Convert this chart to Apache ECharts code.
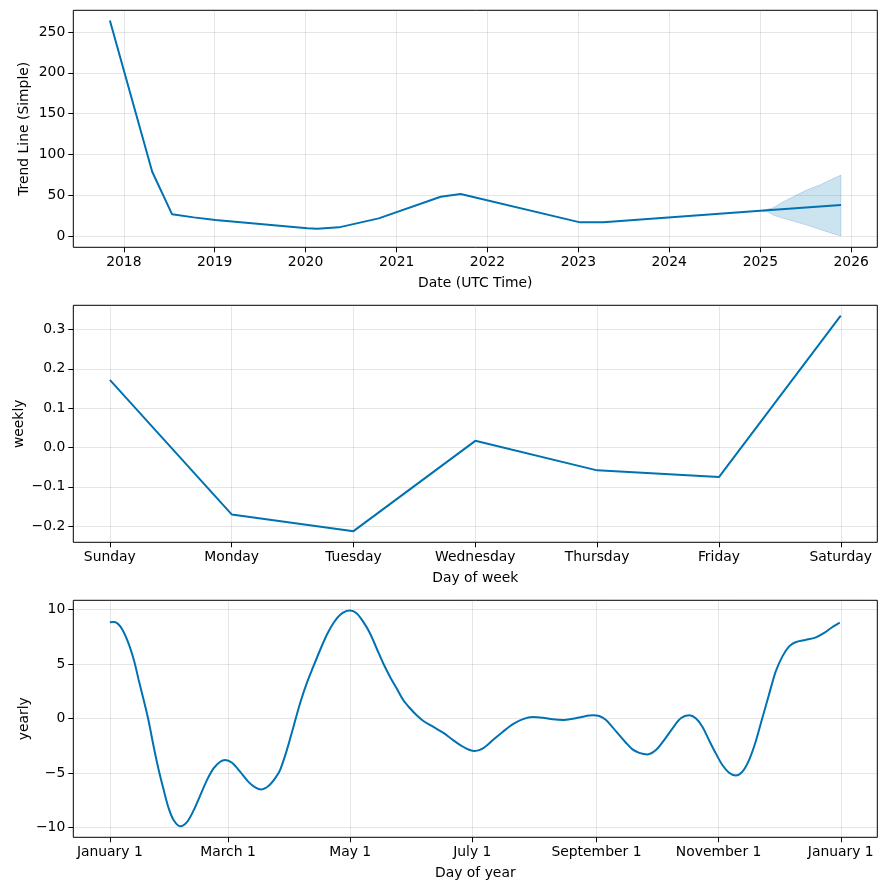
<!DOCTYPE html>
<html><head><meta charset="utf-8">
<script src="https://cdn.jsdelivr.net/npm/echarts@6/dist/echarts.min.js"></script>
<style>html,body{margin:0;padding:0;background:#fff}#c{width:886px;height:890px}</style>
</head><body><div id="c"></div><script>
// ---- Panel 1: trend ----
const trendDates = ['2017-11-06','2018-04-25','2018-07-14','2018-10-09','2019-01-04','2020-01-08','2020-02-17','2020-05-14','2020-10-21','2021-06-27','2021-09-15','2023-01-08','2023-04-11','2025-01-01','2025-11-21'];
const trendValues = [264, 79, 26.9, 23.2, 19.9, 9.8, 9.3, 11.0, 22.0, 48.4, 51.7, 17.1, 17.1, 31.2, 38.2];
const bandDates = ['2025-01-01','2025-02-01','2025-02-22','2025-04-03','2025-05-13','2025-07-06','2025-08-28','2025-10-08','2025-11-21'];
const bandUpper = [31.2, 33.4, 34.9, 42.3, 48.4, 56.6, 62.7, 68.8, 74.9];
const bandLower = [31.2, 29.8, 26.0, 22.0, 18.7, 13.8, 8.6, 4.4, 0.4];
const trendYearTicks = ['2018','2019','2020','2021','2022','2023','2024','2025','2026'];
const trendYTicks = [0, 50, 100, 150, 200, 250];

// ---- Panel 2: weekly ----
const weekDays = ['Sunday','Monday','Tuesday','Wednesday','Thursday','Friday','Saturday'];
const weeklyValues = [0.172, -0.170, -0.2125, 0.017, -0.058, -0.075, 0.335];
const weeklyYTicks = [-0.2, -0.1, 0.0, 0.1, 0.2, 0.3];

// ---- Panel 3: yearly ----
const yearDays = [0,2,5.3,8.7,12,14.4,16.9,19.1,21.9,24.4,26.9,29.4,31.9,35.2,38.6,41.9,45.2,48.5,51.8,55.1,57.6,61,65.1,69.2,72.6,75.6,79.2,82.5,85,88.4,91.7,95,98.3,101.6,105,108.3,111.6,114.9,118.3,119.9,123.2,126.5,129.9,133.2,136.5,139.9,143.2,146.5,149.9,153.1,156.4,161.4,166.4,171.4,176.4,179.7,182.2,186.3,191.3,196.3,201.3,206.3,211.2,216.2,221.2,226.2,231.1,236.1,241.1,244.4,247.8,251.1,254.4,257.7,261,264.4,268.5,272.7,276.8,281,285.1,289.3,292.6,295.9,299.2,302.6,305.9,309.2,312.5,315.8,319.2,322.5,325.8,329.1,332.5,335.8,339.1,342.4,347.4,352.3,356.5,360.7,364.5];
const yearlyValues = [8.84,8.87,8.44,7.2,5.38,3.54,1.7,0.0,-2.59,-4.73,-6.57,-8.25,-9.33,-9.88,-9.48,-8.41,-7.03,-5.65,-4.58,-3.97,-3.81,-4.06,-4.89,-5.81,-6.32,-6.51,-6.2,-5.5,-4.73,-2.89,-0.75,1.40,3.23,4.76,6.29,7.67,8.75,9.51,9.88,9.91,9.67,8.89,7.83,6.45,5.07,3.84,2.77,1.70,0.94,0.32,-0.20,-0.75,-1.30,-1.98,-2.59,-2.89,-2.99,-2.74,-1.98,-1.21,-0.51,-0.05,0.14,0.07,-0.07,-0.14,-0.02,0.17,0.29,0.23,-0.14,-0.81,-1.52,-2.22,-2.83,-3.15,-3.29,-2.89,-1.98,-0.90,0.02,0.29,0.02,-0.75,-1.98,-3.20,-4.27,-4.98,-5.22,-4.89,-3.81,-2.13,0.02,2.16,4.30,5.68,6.60,7.00,7.21,7.42,7.83,8.38,8.80];
const yearTickDays = [0, 59, 120, 181, 243, 304, 365];
const yearTickLabels = ['January 1','March 1','May 1','July 1','September 1','November 1','January 1'];
const yearlyYTicks = [-10, -5, 0, 5, 10];

const FONT = 'DejaVu Sans';
const FS = 13.9;
const LINE = '#0072B2';
const BAND = 'rgba(0,114,178,0.2)';
const GRIDC = 'rgba(128,128,128,0.2)';
const minus = s => String(s).replace('-', '\u2212');
const ts = d => Date.parse(d);

function axisBase(gi) {
  return {
    gridIndex: gi,
    axisLine: { show: false, onZero: false },
    axisTick: { show: true, length: 5, lineStyle: { color: '#000', width: 1 } },
    axisLabel: { color: '#000', fontFamily: FONT, fontSize: FS, margin: 8 },
    splitLine: { show: true, lineStyle: { color: GRIDC, width: 1 } },
    nameLocation: 'middle',
    nameMoveOverlap: false,
    nameTextStyle: { color: '#000', fontFamily: FONT, fontSize: FS },
  };
}
function merge(a, b) {
  const o = Object.assign({}, a);
  for (const k in b) {
    if (b[k] && typeof b[k] === 'object' && !Array.isArray(b[k]) && a[k] && typeof a[k] === 'object') o[k] = Object.assign({}, a[k], b[k]);
    else o[k] = b[k];
  }
  return o;
}

const yearTickTs = trendYearTicks.map(y => Date.UTC(+y, 0, 1));

const grids = [0, 1, 2].map(i => ({
  left: 73.3, width: 804, top: [10.3, 305.3, 600.3][i], height: 237,
  show: true, borderColor: '#000', borderWidth: 1, backgroundColor: 'transparent',
  containLabel: false, outerBoundsMode: 'none'
}));

const xAxes = [
  merge(axisBase(0), {
    type: 'value', min: ts('2017-06-12'), max: ts('2026-04-16'), scale: true,
    name: 'Date (UTC Time)', nameGap: 29,
    axisTick: { customValues: yearTickTs },
    axisLabel: { customValues: yearTickTs, formatter: v => String(new Date(v).getUTCFullYear()), hideOverlap: false }
  }),
  merge(axisBase(1), {
    type: 'value', min: -0.3, max: 6.3,
    name: 'Day of week', nameGap: 29,
    axisTick: { customValues: weekDays.map((d, i) => i) },
    axisLabel: { customValues: weekDays.map((d, i) => i), formatter: v => weekDays[Math.round(v)] }
  }),
  merge(axisBase(2), {
    type: 'value', min: -18.25, max: 383.25,
    name: 'Day of year', nameGap: 29,
    axisTick: { customValues: yearTickDays },
    axisLabel: { customValues: yearTickDays, formatter: (v) => yearTickLabels[yearTickDays.indexOf(Math.round(v))] }
  })
];

const yAxes = [
  merge(axisBase(0), {
    type: 'value', min: -13.4, max: 276.5, name: 'Trend Line (Simple)', nameGap: 41.5, nameRotate: 90,
    axisTick: { customValues: trendYTicks },
    axisLabel: { customValues: trendYTicks, formatter: v => minus(Math.round(v)) }
  }),
  merge(axisBase(1), {
    type: 'value', min: -0.2408, max: 0.3614, name: 'weekly', nameGap: 46.5, nameRotate: 90,
    axisTick: { customValues: weeklyYTicks },
    axisLabel: { customValues: weeklyYTicks, formatter: v => minus((Math.round(v * 10) / 10).toFixed(1)).replace('\u22120.0', '0.0') }
  }),
  merge(axisBase(2), {
    type: 'value', min: -10.9, max: 10.85, name: 'yearly', nameGap: 41.5, nameRotate: 90,
    axisTick: { customValues: yearlyYTicks },
    axisLabel: { customValues: yearlyYTicks, formatter: v => minus(Math.round(v)) }
  })
];

const series = [
  {
    type: 'custom', xAxisIndex: 0, yAxisIndex: 0, silent: true, z: 1, clip: true,
    encode: { x: 0, y: 1 },
    data: [[ts(bandDates[0]), bandLower[0]]],
    renderItem: function (params, api) {
      const pts = [];
      for (let i = 0; i < bandDates.length; i++) pts.push(api.coord([ts(bandDates[i]), bandUpper[i]]));
      for (let i = bandDates.length - 1; i >= 0; i--) pts.push(api.coord([ts(bandDates[i]), bandLower[i]]));
      return { type: 'polygon', shape: { points: pts }, style: { fill: BAND, stroke: BAND, lineWidth: 1 } };
    }
  },
  {
    type: 'line', xAxisIndex: 0, yAxisIndex: 0, symbol: 'none', z: 3,
    lineStyle: { color: LINE, width: 2 },
    data: trendDates.map((d, i) => [ts(d), trendValues[i]])
  },
  {
    type: 'line', xAxisIndex: 1, yAxisIndex: 1, symbol: 'none',
    lineStyle: { color: LINE, width: 2 },
    data: weekDays.map((d, i) => [i, weeklyValues[i]])
  },
  {
    type: 'line', xAxisIndex: 2, yAxisIndex: 2, symbol: 'none', smooth: 0.3,
    lineStyle: { color: LINE, width: 2 },
    data: yearDays.map((d, i) => [d, yearlyValues[i]])
  }
];

const chart = echarts.init(document.getElementById('c'), null, { renderer: 'canvas', width: 886, height: 890 });
chart.setOption({
  animation: false,
  backgroundColor: '#fff',
  textStyle: { fontFamily: FONT },
  grid: grids, xAxis: xAxes, yAxis: yAxes, series: series
});
</script></body></html>
